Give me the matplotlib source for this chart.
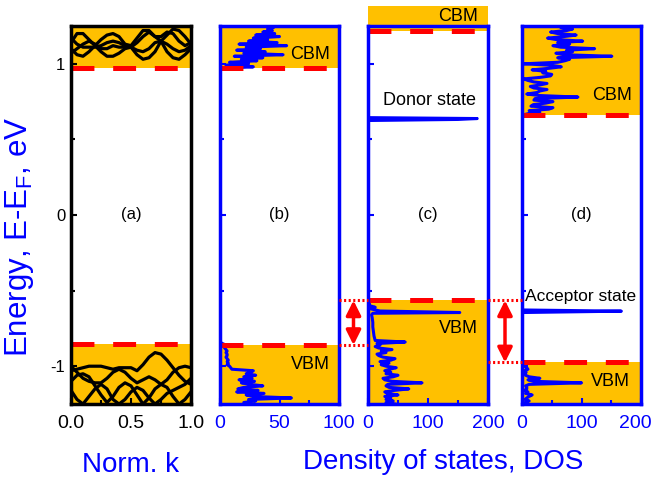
import numpy as np
import matplotlib
matplotlib.use("Agg")
import matplotlib.pyplot as plt
import matplotlib.transforms as mtransforms
from matplotlib.lines import Line2D
from matplotlib.patches import Rectangle

plt.rcParams['font.family'] = ['Liberation Sans', 'DejaVu Sans']
plt.rcParams['lines.scale_dashes'] = False
plt.rcParams['axes.unicode_minus'] = False

BLUE = '#0000ff'
ORANGE = '#ffc000'
RED = '#ff0000'

# band edges for panels a-d (eV)
cbm_levels = [0.97, 0.97, 1.22, 0.66]
vbm_levels = [-0.855, -0.86, -0.565, -0.975]

# (a) band structure along normalised k
k_pts = np.linspace(0.0, 1.0, 21)
cond_bands = [
    [1.14, 1.20, 1.20, 1.16, 1.12, 1.16, 1.19, 1.20, 1.18, 1.13, 1.12, 1.17, 1.22, 1.22, 1.18, 1.15, 1.19, 1.23, 1.22, 1.18, 1.13],
    [1.10, 1.06, 1.05, 1.08, 1.12, 1.08, 1.05, 1.05, 1.07, 1.10, 1.11, 1.06, 1.03, 1.04, 1.08, 1.15, 1.08, 1.04, 1.03, 1.06, 1.10],
    [1.17, 1.13, 1.11, 1.11, 1.11, 1.12, 1.14, 1.15, 1.14, 1.12, 1.11, 1.14, 1.18, 1.21, 1.18, 1.18, 1.21, 1.20, 1.15, 1.12, 1.14],
    [1.07, 1.10, 1.13, 1.15, 1.13, 1.10, 1.10, 1.12, 1.11, 1.11, 1.11, 1.09, 1.08, 1.10, 1.14, 1.15, 1.13, 1.10, 1.08, 1.09, 1.12],
]
val_bands = [
    [-1.03, -1.02, -1.01, -1.00, -1.00, -1.00, -1.01, -1.02, -1.01, -1.01, -1.01, -1.03, -0.99, -0.94, -0.91, -0.92, -0.96, -1.01, -1.06, -1.10, -1.12],
    [-1.00, -1.04, -1.08, -1.10, -1.11, -1.11, -1.08, -1.04, -1.02, -1.04, -1.08, -1.11, -1.09, -1.07, -1.09, -1.12, -1.09, -1.04, -1.01, -1.00, -1.01],
    [-1.10, -1.06, -1.05, -1.07, -1.13, -1.19, -1.24, -1.20, -1.14, -1.11, -1.13, -1.19, -1.25, -1.21, -1.15, -1.12, -1.14, -1.20, -1.25, -1.22, -1.17],
    [-1.16, -1.22, -1.25, -1.20, -1.15, -1.12, -1.15, -1.22, -1.25, -1.22, -1.17, -1.14, -1.16, -1.21, -1.25, -1.22, -1.18, -1.16, -1.14, -1.12, -1.08],
]

# (b) pristine DOS
dos_b_vb = [25, 20, 30, 24, 60, 28, 22, 37, 14, 32, 15, 20, 36, 25, 18, 29, 16, 27, 20, 30,
            22, 26, 28, 10, 9, 8, 6, 7, 6, 7, 6, 5, 6, 6, 5, 6, 5, 4, 3, 5, 2, 0]   # -1.25 .. -0.84
dos_b_cb = [2, 28, 5, 24, 8, 31, 18, 36, 12, 53, 20, 38, 14, 34, 22, 56, 16, 48, 24, 40,
            28, 50, 30, 46, 36, 44, 40, 45, 42]                                     # 0.97 .. 1.25

# (c) donor-doped DOS
dos_c_vb = [45, 30, 42, 30, 38, 28, 50, 32, 28, 44, 68, 35, 30, 33, 90, 40, 28, 25, 42, 50,
            30, 38, 28, 36, 47, 30, 22, 35, 20, 38, 45, 25, 18, 15, 30, 22, 40, 18, 12, 20,
            15, 62]                                                                 # -1.25 .. -0.84
e_c_top = [-0.83, -0.80, -0.77, -0.74, -0.71, -0.68, -0.66, -0.65, -0.645, -0.635, -0.62, -0.61, -0.60, -0.58, -0.57]
dos_c_top = [12, 10, 9, 8, 8, 7, 6, 8, 153, 20, 4, 12, 3, 2, 0]
e_donor = [0.625, 0.632, 0.638, 0.644]
dos_donor = [0, 150, 182, 0]

# (d) acceptor-doped DOS
dos_d_vb = [3, 5, 12, 5, 8, 12, 17, 6, 10, 4, 8, 8, 6, 12, 100, 20, 10, 30, 12, 6,
            5, 7, 4, 10, 8, 4, 3, 1, 0]                                             # -1.25 .. -0.97
e_acceptor = [-0.645, -0.636, -0.628]
dos_acceptor = [0, 167, 0]
dos_d_cb = [0, 10, 30, 12, 45, 52, 15, 19, 40, 52, 20, 22, 94, 30, 8, 25, 30, 42, 20, 14,
            30, 42, 20, 10, 3, 30, 48, 50, 35, 40, 17, 45, 66, 50, 3, 60, 72, 80, 60, 151,
            70, 57, 85, 75, 122, 65, 52, 80, 60, 102, 58, 43, 70, 91, 60, 48, 75, 85, 65, 68]  # 0.66 .. 1.25


def grid(e0, e1, vals):
    return np.linspace(e0, e1, len(vals))


e_b = np.concatenate([grid(-1.25, -0.84, dos_b_vb), [0.96], grid(0.97, 1.25, dos_b_cb)])
d_b = np.concatenate([dos_b_vb, [0], dos_b_cb])

e_c = np.concatenate([grid(-1.25, -0.84, dos_c_vb), e_c_top, e_donor, [1.25]])
d_c = np.concatenate([dos_c_vb, dos_c_top, dos_donor, [0]])

e_d = np.concatenate([grid(-1.25, -0.97, dos_d_vb), e_acceptor, grid(0.66, 1.25, dos_d_cb)])
d_d = np.concatenate([dos_d_vb, dos_acceptor, dos_d_cb])

fig = plt.figure(figsize=(6.52, 4.78), dpi=100)
W, H = 652.0, 478.0


def px_axes(x0, x1, y0, y1):
    return fig.add_axes([x0 / W, 1 - y1 / H, (x1 - x0) / W, (y1 - y0) / H])


ax_a = px_axes(71, 191, 26, 404)
ax_b = px_axes(220, 339, 26, 404)
ax_c = px_axes(368, 488, 26, 404)
ax_d = px_axes(522, 641, 26, 404)
axes = [ax_a, ax_b, ax_c, ax_d]
xmaxes = [1.0, 100, 200, 200]
xmajor = [[0.0, 0.5, 1.0], [0, 50, 100], [0, 100, 200], [0, 100, 200]]
xlabels = [['0.0', '0.5', '1.0'], ['0', '50', '100'], ['0', '100', '200'], ['0', '100', '200']]
xminor = [[0.25, 0.75], [25, 75], [50, 150], [50, 150]]
dash = (0, (16.5, 13.5))

for i, ax in enumerate(axes):
    col = 'black' if i == 0 else BLUE
    xm = xmaxes[i]
    ax.set_xlim(0, xm)
    ax.set_ylim(-1.25, 1.25)
    for s in ax.spines.values():
        s.set_color(col)
        s.set_linewidth(2.5)
        s.set_zorder(6)
    ax.set_xticks(xmajor[i])
    ax.set_xticks(xminor[i], minor=True)
    ax.set_xticklabels(xlabels[i], fontsize=14)
    ax.set_yticks([-1, 0, 1])
    ax.set_yticks([-0.5, 0.5], minor=True)
    ax.tick_params(which='both', direction='in', top=False, right=False,
                   color=col, labelcolor=col, width=1.5)
    ax.tick_params(which='major', length=4)
    ax.tick_params(which='minor', length=3)
    ax.tick_params(axis='x', pad=8)
    if i == 0:
        ax.set_yticklabels(['-1', '0', '1'], fontsize=12)
        ax.tick_params(axis='y', pad=4)
    else:
        ax.set_yticklabels([])

    # band-edge shading and dashed edges
    c, v = cbm_levels[i], vbm_levels[i]
    if i == 2:
        ax.add_patch(Rectangle((0, c), xm, 0.16, facecolor=ORANGE, edgecolor='none',
                               clip_on=False, zorder=0))
    else:
        ax.axhspan(c, 1.25, facecolor=ORANGE, edgecolor='none', zorder=0)
    ax.axhspan(-1.25, v, facecolor=ORANGE, edgecolor='none', zorder=0)
    ax.axhline(c, color=RED, lw=3.6, ls=dash, zorder=5)
    ax.axhline(v, color=RED, lw=3.6, ls=dash, zorder=5)

# keep the last DOS label inside the canvas
last = ax_d.get_xticklabels()[-1]
last.set_transform(last.get_transform() +
                   mtransforms.ScaledTranslation(-6 / 100, 0, fig.dpi_scale_trans))

for band in cond_bands + val_bands:
    ax_a.plot(k_pts, band, color='black', lw=2.3, zorder=3)

for ax, e, d in [(ax_b, e_b, d_b), (ax_c, e_c, d_c), (ax_d, e_d, d_d)]:
    ax.plot(d, e, color=BLUE, lw=2.2, zorder=3)

# panel annotations
for ax, tag in zip(axes, ['(a)', '(b)', '(c)', '(d)']):
    ax.text(0.5, 0.5, tag, transform=ax.transAxes, ha='center', va='center', fontsize=12)
ax_b.text(76, 1.06, 'CBM', ha='center', va='center', fontsize=13, zorder=4)
ax_b.text(76, -0.99, 'VBM', ha='center', va='center', fontsize=13, zorder=4)
ax_c.text(150, 1.31, 'CBM', ha='center', va='center', fontsize=13, zorder=4, clip_on=False)
ax_c.text(102, 0.755, 'Donor state', ha='center', va='center', fontsize=13, zorder=4)
ax_c.text(150, -0.75, 'VBM', ha='center', va='center', fontsize=13, zorder=4)
ax_d.text(151, 0.79, 'CBM', ha='center', va='center', fontsize=13, zorder=4)
ax_d.text(148, -1.10, 'VBM', ha='center', va='center', fontsize=13, zorder=4)
ax_d.text(5, -0.54, 'Acceptor state', ha='left', va='center', fontsize=12.5, zorder=4)

# gap arrows between panels
trans = mtransforms.blended_transform_factory(fig.transFigure, ax_c.transData)
pairs = [(ax_b, ax_c, vbm_levels[1], vbm_levels[2]),
         (ax_c, ax_d, vbm_levels[2], vbm_levels[3])]
for left, right, y_lo, y_hi in pairs:
    x0 = left.get_position().x1
    x1 = right.get_position().x0
    for y in (y_lo, y_hi):
        fig.add_artist(Line2D([x0, x1], [y, y], transform=trans, color=RED,
                              lw=2.2, ls=(0, (1.5, 1.8))))
    xm = 0.5 * (x0 + x1)
    ax_c.annotate('', xy=(xm, y_lo), xycoords=trans, xytext=(xm, y_hi), textcoords=trans,
                  arrowprops=dict(arrowstyle='<|-|>', color=RED, lw=2.5,
                                  mutation_scale=22, shrinkA=0, shrinkB=0),
                  annotation_clip=False)

fig.text(20 / W, 1 - 237 / H, 'Energy, E-E$\\mathregular{_F}$, eV', rotation=90,
         ha='center', va='center', fontsize=22.5, color=BLUE)
fig.text(131 / W, 1 - 465 / H, 'Norm. k', ha='center', va='center', fontsize=20, color=BLUE)
fig.text(443 / W, 1 - 462 / H, 'Density of states, DOS', ha='center', va='center',
         fontsize=20, color=BLUE)

fig.savefig('out.png', dpi=100)
